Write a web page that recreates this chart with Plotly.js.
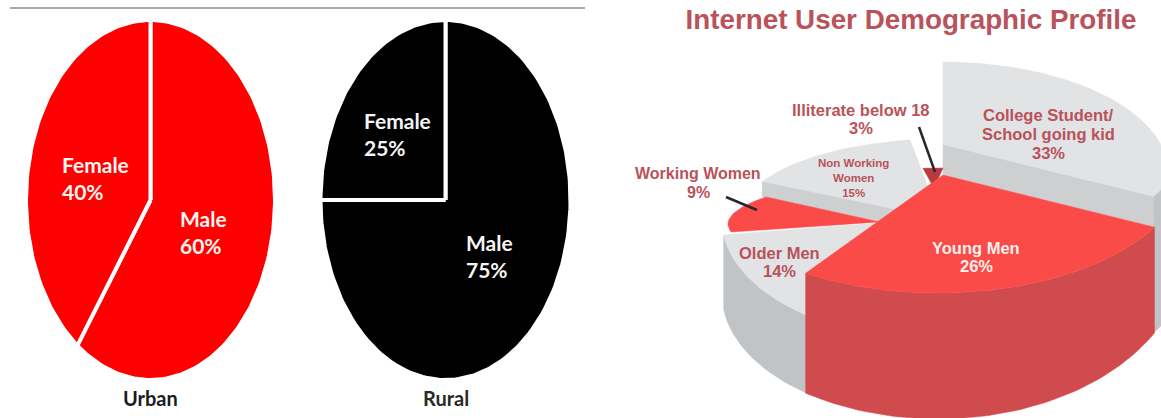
<!DOCTYPE html>
<html>
<head>
<meta charset="utf-8">
<script src="https://cdn.plot.ly/plotly-3.0.1.min.js"></script>
<style>html,body{margin:0;padding:0;background:#fff}#chart{width:1161px;height:418px}</style>
</head>
<body>
<div id="chart"></div>
<script>
// Gender split by area
const urbanLabels = ['Male', 'Female'];
const urbanValues = [60, 40];
const ruralLabels = ['Male', 'Female'];
const ruralValues = [75, 25];

// Internet users by group, clockwise from twelve o'clock
const profileLabels = ['College Student/ School going kid', 'Young Men', 'Older Men', 'Working Women', 'Non Working Women', 'Illiterate below 18'];
const profileValues = [33, 26, 14, 9, 15, 3];

const RED = '#fe0000', BLACK = '#000000';
const SURFACE_GREY = '#e2e3e5', CUT_GREY = '#cdcfd1', WALL_GREY = '#c1c4c7';
const SURFACE_RED = '#fb4b48', WALL_RED = '#d04b4e', DARK_RED = '#b93a3e';
const LABEL_RED = '#b9525a';

// Turns values into [start, end] angles in degrees, clockwise from north.
function angleSpans(values) {
  const total = values.reduce((a, b) => a + b, 0);
  let run = 0;
  return values.map(v => { const s = run / total * 360; run += v; return [s, run / total * 360]; });
}

// Points along an elliptical arc.
function arc(e, from, to) {
  const xs = [], ys = [], n = Math.max(2, Math.ceil(Math.abs(to - from) / 1.5));
  for (let i = 0; i <= n; i++) {
    const t = (from + (to - from) * i / n) * Math.PI / 180;
    xs.push(e.cx + e.rx * Math.sin(t));
    ys.push(e.cy - e.ry * Math.cos(t));
  }
  return { x: xs, y: ys };
}

function polygon(x, y, fill, line, width, name) {
  return { type: 'scatter', mode: 'lines', x, y, fill: 'toself', fillcolor: fill,
           line: { color: line || fill, width: width === undefined ? 0.5 : width },
           showlegend: false, hoverinfo: name ? 'text' : 'skip', text: name || '' };
}

// Flat slice: apex plus arc.
function wedge(e, apex, span, fill, name, line, width) {
  const a = arc(e, span[0], span[1]);
  return polygon([apex[0], ...a.x, apex[0]], [apex[1], ...a.y, apex[1]], fill, line, width, name);
}

// Rim of a slice: band between an upper and a lower arc.
function band(top, bottom, from, to, fill) {
  const a = arc(top, from, to), b = arc(bottom, to, from);
  return polygon([...a.x, ...b.x, a.x[0]], [...a.y, ...b.y, a.y[0]], fill);
}

// Straight cut face dropped below the edge between two points.
function cutFace(p, q, depth, fill) {
  return polygon([p[0], q[0], q[0], p[0], p[0]], [p[1], q[1], q[1] + depth, p[1] + depth, p[1]], fill);
}

const traces = [];

// Two flat pies, stretched vertically
function flatPie(cx, cy, rx, ry, labels, values, color) {
  const spans = angleSpans(values);
  labels.forEach((lab, i) => {
    traces.push(wedge({ cx, cy, rx: rx + 2, ry: ry + 2 }, [cx, cy], spans[i], color,
                      lab + ' ' + values[i] + '%', '#ffffff', 4));
  });
}
flatPie(150.5, 200, 122.5, 178, urbanLabels, urbanValues, RED);
flatPie(445.5, 200, 123, 178, ruralLabels, ruralValues, BLACK);

// Raised pie, back slices first
const spans = angleSpans(profileValues);
const [college, young, older, working, nonWorking, illiterate] = spans;

const collegeTop = { cx: 943, cy: 172, rx: 225, ry: 110 };
const collegeApex = [943, 145];
const collegeRim = { cx: 943, cy: 145, rx: 240, ry: 108 };
traces.push(wedge(collegeTop, collegeApex, college, SURFACE_GREY, profileLabels[0] + ' 33%'));
traces.push(band(collegeRim, { ...collegeRim, cy: collegeRim.cy + 136 }, 100, college[1], WALL_GREY));
const collegeEnd = arc(collegeRim, college[1], college[1]);
traces.push(cutFace(collegeApex, [collegeEnd.x[0], collegeEnd.y[0]], 30, CUT_GREY));

const nonWorkingTop = { cx: 948.6, cy: 214, rx: 206, ry: 75.5 };
const nonWorkingApex = [940, 219];
traces.push(wedge(nonWorkingTop, nonWorkingApex, nonWorking, SURFACE_GREY, profileLabels[4] + ' 15%'));
const nwStart = arc(nonWorkingTop, nonWorking[0], nonWorking[0]);
traces.push(cutFace([nwStart.x[0], nwStart.y[0]], nonWorkingApex, 15, CUT_GREY));

traces.push(wedge({ cx: 943, cy: 188, rx: 107, ry: 20 }, [934, 188], illiterate, DARK_RED, profileLabels[5] + ' 3%'));
traces.push(wedge({ cx: 1127, cy: 224, rx: 399, ry: 63.5 }, [880, 222], working, SURFACE_RED, profileLabels[3] + ' 9%'));

const olderTop = { cx: 938, cy: 220, rx: 216, ry: 120 };
const olderBottom = { cx: 938, cy: 294, rx: 216, ry: 125 };
traces.push(band(olderTop, olderBottom, older[0], older[1], WALL_GREY));
traces.push(wedge(olderTop, [875, 223], older, SURFACE_GREY, profileLabels[2] + ' 14%'));

const youngTop = { cx: 938, cy: 166, rx: 247, ry: 127 };
const youngBottom = { cx: 938, cy: 253, rx: 247, ry: 166 };
traces.push(band(youngTop, youngBottom, young[0], young[1], WALL_RED));
traces.push(wedge(youngTop, [943, 175], young, SURFACE_RED, profileLabels[1] + ' 26%'));

// Leader lines
traces.push({ type: 'scatter', mode: 'lines', x: [726, 757], y: [197, 210], line: { color: '#26282b', width: 2.5 }, showlegend: false, hoverinfo: 'skip' });
traces.push({ type: 'scatter', mode: 'lines', x: [919, 935], y: [127, 172], line: { color: '#26282b', width: 2.5 }, showlegend: false, hoverinfo: 'skip' });

function note(text, x, y, color, size, family, anchor) {
  return { text: `<b>${text}</b>`, x, y, xref: 'x', yref: 'y', showarrow: false, align: anchor || 'center', xanchor: anchor || 'center', yanchor: 'middle',
           font: { family, size, color } };
}
const CONDENSED = 'Lato, "Liberation Sans", sans-serif';
const SANS = '"Liberation Sans", Arial, sans-serif';

const annotations = [
  note(`${urbanLabels[1]}<br>${urbanValues[1]}%`, 60, 178, '#fff5f5', 21, CONDENSED, 'left'),
  note(`${urbanLabels[0]}<br>${urbanValues[0]}%`, 178, 232, '#fff5f5', 21, CONDENSED, 'left'),
  note(`${ruralLabels[1]}<br>${ruralValues[1]}%`, 362, 134, '#f5f5f5', 21, CONDENSED, 'left'),
  note(`${ruralLabels[0]}<br>${ruralValues[0]}%`, 464, 256, '#f5f5f5', 21, CONDENSED, 'left'),
  note('Urban', 150, 398, '#1c1c1c', 20, CONDENSED),
  note('Rural', 446, 398, '#2a2a2a', 20, CONDENSED),
  note('College Student/', 1048, 115, LABEL_RED, 16.5, SANS),
  note('School going kid', 1048, 134, LABEL_RED, 16.5, SANS),
  note(`${profileValues[0]}%`, 1048, 153, LABEL_RED, 16.5, SANS),
  note(profileLabels[1], 976, 248, '#fff0ee', 16.5, SANS),
  note(`${profileValues[1]}%`, 976, 266, '#fff0ee', 16.5, SANS),
  note(profileLabels[2], 779, 253, LABEL_RED, 16.5, SANS),
  note(`${profileValues[2]}%`, 779, 271, LABEL_RED, 16.5, SANS),
  note(profileLabels[3], 698, 173, LABEL_RED, 16, SANS),
  note(`${profileValues[3]}%`, 698, 192, LABEL_RED, 16, SANS),
  note(profileLabels[5], 861, 110, LABEL_RED, 16.5, SANS),
  note(`${profileValues[5]}%`, 861, 128, LABEL_RED, 16.5, SANS),
  note(`Non Working<br>Women<br>${profileValues[4]}%`, 853, 178, LABEL_RED, 11.5, SANS)
];

const hiddenAxis = { visible: false, fixedrange: true, zeroline: false, showgrid: false };
const layout = {
  width: 1161, height: 418,
  margin: { l: 0, r: 0, t: 0, b: 0 },
  paper_bgcolor: '#ffffff', plot_bgcolor: '#ffffff',
  title: { text: '<b>Internet User Demographic Profile</b>', x: 911 / 1161, y: 1 - 19 / 418, xanchor: 'center', yanchor: 'middle',
           font: { family: SANS, size: 27.8, color: '#b9525a' } },
  xaxis: { ...hiddenAxis, range: [0, 1161] },
  yaxis: { ...hiddenAxis, range: [418, 0] },
  shapes: [{ type: 'line', xref: 'x', yref: 'y', x0: 10, x1: 585, y0: 8, y1: 8, line: { color: '#8b8b8b', width: 1.5 } }],
  annotations
};
Plotly.newPlot('chart', traces, layout, { displayModeBar: false, responsive: false });
</script>
</body>
</html>
